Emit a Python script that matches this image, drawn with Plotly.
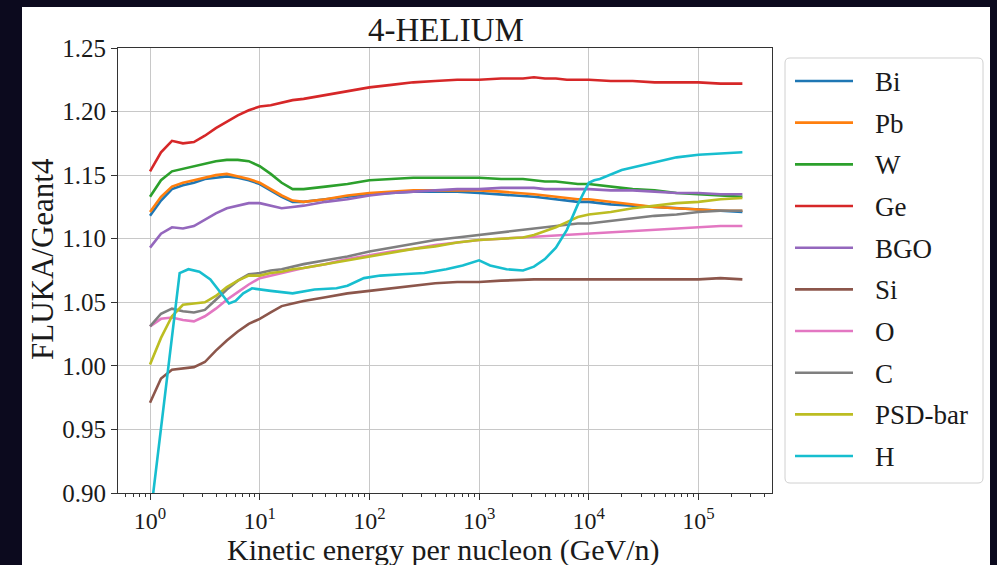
import plotly.graph_objects as go

# ---------------- data ----------------
energy = [1.0, 1.259, 1.585, 1.995, 2.512, 3.162, 3.981, 5.012, 6.310, 7.943,
          10.0, 12.59, 15.85, 19.95, 25.12, 39.81, 63.10, 100.0, 158.5, 251.2,
          398.1, 631.0, 1000.0, 1585.0, 2512.0, 3162.0, 3981.0, 5012.0, 6310.0, 7943.0,
          10000.0, 15850.0, 25120.0, 39810.0, 63100.0, 100000.0, 158500.0, 251200.0]

bi = [1.118, 1.130, 1.139, 1.142, 1.144, 1.147, 1.148, 1.149, 1.148, 1.146,
      1.143, 1.138, 1.133, 1.129, 1.129, 1.131, 1.133, 1.135, 1.136, 1.137,
      1.137, 1.137, 1.136, 1.135, 1.134, 1.133, 1.132, 1.131, 1.130, 1.129,
      1.129, 1.127, 1.126, 1.125, 1.124, 1.123, 1.122, 1.121]
pb = [1.121, 1.133, 1.141, 1.144, 1.146, 1.148, 1.150, 1.151, 1.149, 1.147,
      1.144, 1.139, 1.134, 1.130, 1.129, 1.131, 1.134, 1.136, 1.137, 1.138,
      1.138, 1.138, 1.138, 1.137, 1.136, 1.135, 1.134, 1.133, 1.132, 1.131,
      1.131, 1.129, 1.127, 1.125, 1.124, 1.123, 1.122, 1.122]
w = [1.133, 1.146, 1.153, 1.155, 1.157, 1.159, 1.161, 1.162, 1.162, 1.161,
     1.157, 1.151, 1.144, 1.139, 1.139, 1.141, 1.143, 1.146, 1.147, 1.148,
     1.148, 1.148, 1.148, 1.147, 1.147, 1.146, 1.145, 1.145, 1.144, 1.143,
     1.143, 1.141, 1.139, 1.138, 1.136, 1.135, 1.134, 1.133]
ge = [1.153, 1.168, 1.177, 1.175, 1.176, 1.181, 1.187, 1.192, 1.197, 1.201,
      1.204, 1.205, 1.207, 1.209, 1.210, 1.213, 1.216, 1.219, 1.221, 1.223,
      1.224, 1.225, 1.225, 1.226, 1.226, 1.227, 1.226, 1.226, 1.225, 1.225,
      1.225, 1.224, 1.224, 1.223, 1.223, 1.223, 1.222, 1.222]
bgo = [1.093, 1.104, 1.109, 1.108, 1.110, 1.115, 1.120, 1.124, 1.126, 1.128,
       1.128, 1.126, 1.124, 1.125, 1.126, 1.129, 1.131, 1.134, 1.136, 1.137,
       1.138, 1.139, 1.139, 1.140, 1.140, 1.140, 1.139, 1.139, 1.139, 1.139,
       1.139, 1.138, 1.138, 1.137, 1.136, 1.136, 1.135, 1.135]
si = [0.971, 0.990, 0.997, 0.998, 0.999, 1.003, 1.012, 1.020, 1.027, 1.033,
      1.037, 1.042, 1.047, 1.049, 1.051, 1.054, 1.057, 1.059, 1.061, 1.063,
      1.065, 1.066, 1.066, 1.067, 1.068, 1.068, 1.068, 1.068, 1.068, 1.068,
      1.068, 1.068, 1.068, 1.068, 1.068, 1.068, 1.069, 1.068]
o = [1.031, 1.037, 1.038, 1.036, 1.035, 1.039, 1.045, 1.052, 1.058, 1.064,
     1.069, 1.071, 1.073, 1.075, 1.077, 1.080, 1.084, 1.087, 1.090, 1.092,
     1.095, 1.097, 1.099, 1.100, 1.101, 1.102, 1.102, 1.103, 1.103, 1.104,
     1.104, 1.105, 1.106, 1.107, 1.108, 1.109, 1.110, 1.110]
c = [1.031, 1.041, 1.045, 1.043, 1.042, 1.044, 1.052, 1.060, 1.067, 1.072,
     1.073, 1.075, 1.076, 1.078, 1.080, 1.083, 1.086, 1.090, 1.093, 1.096,
     1.099, 1.101, 1.103, 1.105, 1.107, 1.108, 1.109, 1.110, 1.111, 1.112,
     1.112, 1.114, 1.116, 1.118, 1.119, 1.121, 1.122, 1.122]
psd = [1.001, 1.022, 1.039, 1.048, 1.049, 1.050, 1.055, 1.062, 1.067, 1.071,
       1.071, 1.073, 1.074, 1.076, 1.077, 1.080, 1.083, 1.086, 1.089, 1.092,
       1.094, 1.097, 1.099, 1.100, 1.101, 1.103, 1.106, 1.109, 1.113, 1.117,
       1.119, 1.121, 1.124, 1.126, 1.128, 1.129, 1.131, 1.132]

energy_h = [1.0, 1.862, 2.239, 2.818, 3.548, 4.467, 5.248, 6.026, 7.079, 8.511,
            10.0, 12.59, 19.95, 31.62, 50.12, 63.10, 89.13, 125.9, 199.5, 316.2,
            501.2, 707.9, 1000.0, 1259.0, 1778.0, 2512.0, 3162.0, 3981.0, 5012.0, 6310.0,
            7943.0, 8913.0, 10000.0, 11220.0, 12590.0, 19950.0, 31620.0, 63100.0, 100000.0, 158500.0,
            251200.0]
h = [0.879, 1.073, 1.076, 1.074, 1.068, 1.057, 1.049, 1.051, 1.057, 1.061,
     1.060, 1.059, 1.057, 1.060, 1.061, 1.063, 1.069, 1.071, 1.072, 1.073,
     1.076, 1.079, 1.083, 1.079, 1.076, 1.075, 1.078, 1.084, 1.093, 1.107,
     1.127, 1.136, 1.144, 1.146, 1.147, 1.154, 1.158, 1.164, 1.166, 1.167,
     1.168]

names = ["Bi", "Pb", "W", "Ge", "BGO", "Si", "O", "C", "PSD-bar", "H"]
series_y = [bi, pb, w, ge, bgo, si, o, c, psd, h]
series_x = [energy] * 9 + [energy_h]
colors = ["#1f77b4", "#ff7f0e", "#2ca02c", "#d62728", "#9467bd",
          "#8c564b", "#e377c2", "#7f7f7f", "#bcbd22", "#17becf"]

y_ticks = [0.90, 0.95, 1.00, 1.05, 1.10, 1.15, 1.20, 1.25]
x_ticks = [1, 10, 100, 1000, 10000, 100000]
x_ticktext = ["10<sup>%d</sup>" % i for i in range(6)]

title_text = "4-HELIUM"
x_title = "Kinetic energy per nucleon (GeV/n)"
y_title = "FLUKA/Geant4"

# ---------------- layout geometry (pixels) ----------------
W, H = 997, 565
PL, PR, PT, PB = 118, 772, 48, 493
FONT = "Liberation Serif"
TXT = "#1a1a1a"


def fx(xp):
    return (xp - PL) / (PR - PL)


def fy(yp):
    return (PB - yp) / (PB - PT)


fig = go.Figure()
for nm, xs, ys, col in zip(names, series_x, series_y, colors):
    fig.add_trace(go.Scatter(x=xs, y=ys, mode="lines", name=nm,
                             line=dict(color=col, width=2.6), showlegend=False))

minor_vals = [m * 10 ** k for k in range(-1, 6) for m in range(2, 10)]

fig.update_layout(
    width=W, height=H,
    margin=dict(l=PL, r=W - PR, t=PT, b=H - PB, autoexpand=False),
    paper_bgcolor="#0c0a1e",
    plot_bgcolor="white",
    font=dict(family=FONT, color=TXT, size=25),
    xaxis=dict(type="log", range=[-0.292, 5.670],
               tickmode="array", tickvals=x_ticks, ticktext=x_ticktext,
               ticks="outside", ticklen=6, tickwidth=1, tickcolor="#333",
               showline=True, linecolor="#333", linewidth=1.2, mirror=True,
               showgrid=True, gridcolor="#c8c8c8", gridwidth=1,
               zeroline=False, tickfont=dict(family=FONT, size=24, color=TXT),
               minor=dict(tickmode="array", tickvals=minor_vals, ticks="outside",
                          ticklen=3, tickcolor="#333", showgrid=False)),
    yaxis=dict(range=[0.90, 1.25], tickmode="array", tickvals=y_ticks,
               tickformat=".2f",
               ticks="outside", ticklen=6, tickwidth=1, tickcolor="#333",
               showline=True, linecolor="#333", linewidth=1.2, mirror=True,
               showgrid=True, gridcolor="#c8c8c8", gridwidth=1,
               zeroline=False, tickfont=dict(family=FONT, size=25, color=TXT)),
)

shapes = []
# white figure canvas over the dark backdrop
shapes.append(dict(type="rect", xref="paper", yref="paper", layer="below",
                   x0=fx(22), x1=fx(990), y0=fy(565), y1=fy(7),
                   fillcolor="white", line=dict(width=0)))

# legend frame (rounded rectangle)
lx0, lx1, ly0, ly1, r = 785, 983, 58, 483, 5
def P(xp, yp):
    return "%.5f,%.5f" % (fx(xp), fy(yp))
path = ("M " + P(lx0 + r, ly0) + " L " + P(lx1 - r, ly0) +
        " Q " + P(lx1, ly0) + " " + P(lx1, ly0 + r) +
        " L " + P(lx1, ly1 - r) + " Q " + P(lx1, ly1) + " " + P(lx1 - r, ly1) +
        " L " + P(lx0 + r, ly1) + " Q " + P(lx0, ly1) + " " + P(lx0, ly1 - r) +
        " L " + P(lx0, ly0 + r) + " Q " + P(lx0, ly0) + " " + P(lx0 + r, ly0) + " Z")
shapes.append(dict(type="path", xref="paper", yref="paper", path=path,
                   fillcolor="rgba(255,255,255,0.8)", line=dict(color="#d0d0d0", width=1)))

annotations = []
for i, (nm, col) in enumerate(zip(names, colors)):
    yc = 81 + 41.67 * i
    shapes.append(dict(type="line", xref="paper", yref="paper",
                       x0=fx(795), x1=fx(853), y0=fy(yc), y1=fy(yc),
                       line=dict(color=col, width=2.6)))
    annotations.append(dict(text=nm, xref="paper", yref="paper",
                            x=fx(873), y=fy(yc + 1), xanchor="left", yanchor="middle",
                            showarrow=False, font=dict(family=FONT, size=27, color=TXT)))

annotations.append(dict(text=title_text, xref="paper", yref="paper",
                        x=fx(446), y=fy(30), xanchor="center", yanchor="middle",
                        showarrow=False, font=dict(family=FONT, size=33, color=TXT)))
annotations.append(dict(text=x_title, xref="paper", yref="paper",
                        x=fx(443), y=fy(550), xanchor="center", yanchor="middle",
                        showarrow=False, font=dict(family=FONT, size=30, color=TXT)))
annotations.append(dict(text=y_title, xref="paper", yref="paper",
                        x=fx(42), y=fy(259), xanchor="center", yanchor="middle",
                        textangle=-90,
                        showarrow=False, font=dict(family=FONT, size=31, color=TXT)))

fig.update_layout(shapes=shapes, annotations=annotations)
fig.write_html("out.html")
